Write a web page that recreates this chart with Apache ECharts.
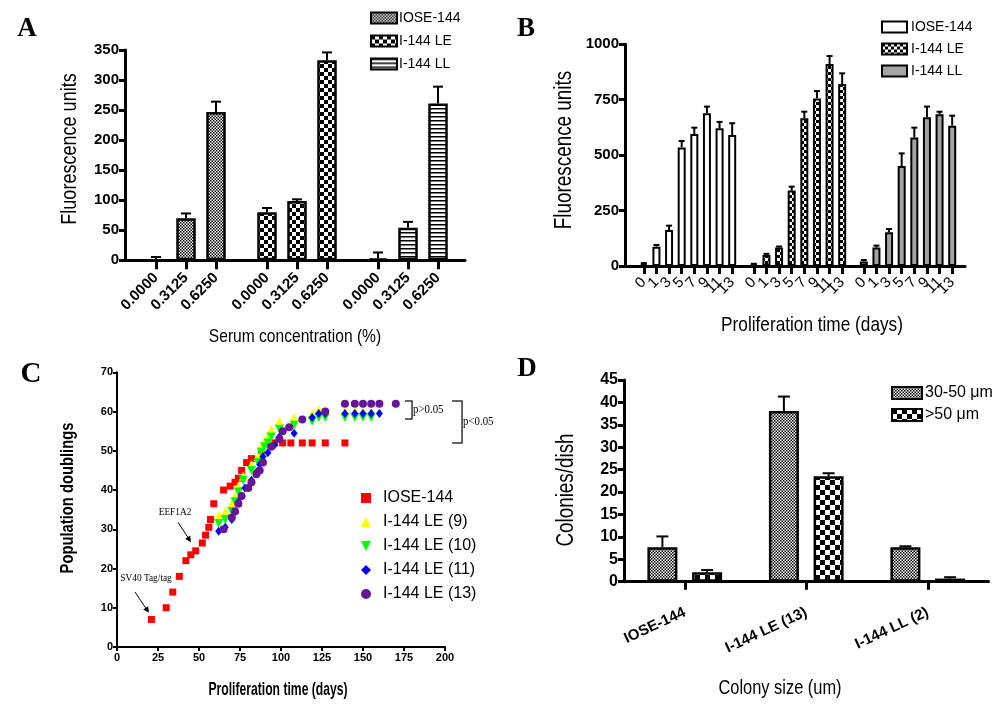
<!DOCTYPE html>
<html><head><meta charset="utf-8">
<script src="https://cdn.jsdelivr.net/npm/echarts@6/dist/echarts.min.js"></script>
<style>
html,body{margin:0;padding:0;background:#fff;width:1008px;height:708px;overflow:hidden}
.p{position:absolute;left:0;top:0;width:1008px;height:708px}
</style>
</head><body>
<div id="a" class="p"></div><div id="b" class="p"></div><div id="c" class="p"></div><div id="d" class="p"></div>
<script>
// ---------------- Panel A data ----------------
const A_concs = ['0.0000', '0.3125', '0.6250'];
const A_groups = ['IOSE-144', 'I-144 LE', 'I-144 LL'];
const A_IOSE = [0.5, 70, 247];
const A_IOSE_err = [5, 8, 17];
const A_LE = [80, 98.5, 333];
const A_LE_err = [7, 3, 13];
const A_LL = [3, 54, 261];
const A_LL_err = [10, 10, 28];

// ---------------- Panel B data ----------------
const B_days = ['0', '1', '3', '5', '7', '9', '11', '13'];
const B_groups = ['IOSE-144', 'I-144 LE', 'I-144 LL'];
const B_IOSE = [8, 87, 162, 535, 595, 689, 621, 591];
const B_IOSE_err = [5, 8, 20, 29, 29, 30, 29, 53];
const B_LE = [7, 50, 83, 340, 666, 756, 911, 821];
const B_LE_err = [3, 5, 5, 18, 30, 33, 36, 48];
const B_LL = [20, 83, 152, 451, 580, 671, 684, 633];
const B_LL_err = [7, 9, 15, 57, 44, 48, 12, 45];

// ---------------- Panel C data ----------------
const C_names = ['IOSE-144', 'I-144 LE (9)', 'I-144 LE (10)', 'I-144 LE (11)', 'I-144 LE (13)'];
const C_IOSE_days = [21, 30, 34, 38, 42, 45, 48, 52, 54, 56, 57, 59, 65, 69, 72, 74, 76, 79, 82, 88, 96, 101, 106, 113, 119, 127, 139];
const C_IOSE_pd = [7, 10, 14, 18, 22, 23.5, 24.5, 26.5, 28.5, 30.5, 32.5, 36.5, 40, 41, 42, 43, 45, 47, 48, 50, 52, 52, 52, 52, 52, 52, 52];
const C_LE9_days = [62, 66, 70, 72, 74, 77, 82, 86, 88, 90, 92, 94, 99, 108, 119, 123, 127, 139, 145, 150, 155];
const C_LE9_pd = [33.5, 34.5, 36.5, 38.5, 41, 43.5, 46.5, 48.5, 51, 52.5, 53.5, 55.5, 57.5, 58.5, 59.5, 60.5, 60, 60, 60, 60, 60];
const C_LE10_days = [62, 66, 70, 72, 74, 77, 82, 86, 88, 90, 92, 94, 99, 108, 119, 123, 127, 139, 145, 150, 155];
const C_LE10_pd = [31.5, 32.5, 34.5, 37, 39.5, 42.5, 45, 47, 49.5, 51, 52, 53.5, 55.5, 56.5, 57.5, 58.5, 58.5, 58.5, 58.5, 58.5, 58.5];
const C_LE11_days = [62, 66, 70, 74, 76, 78, 82, 85, 87, 89, 92, 96, 99, 108, 119, 123, 127, 139, 145, 150, 155, 160];
const C_LE11_pd = [29.5, 30.5, 32.5, 37, 38.5, 40.5, 42.5, 44.5, 46.5, 48.5, 49.5, 51.5, 53.5, 54.5, 58.5, 59.5, 59.5, 59.5, 59.5, 59.5, 59.5, 59.5];
const C_LE13_days = [65, 70, 72, 74, 76, 80, 82, 85, 87, 89, 94, 99, 101, 105, 113, 127, 139, 145, 150, 155, 160, 170];
const C_LE13_pd = [30, 33, 34.5, 36.5, 38.5, 40.5, 42, 44, 45, 47, 51, 53, 55, 56, 58, 60, 62, 62, 62, 62, 62, 62];
// annotations (data space)
const C_arrowTexts = ['SV40 Tag/tag', 'EEF1A2'];
const C_arrowTextAt = [[17.7, 17.6], [35.4, 34.4]];
const C_arrowFrom = [[11, 14], [37.2, 31.8]];
const C_arrowTo = [[19.5, 8.7], [45.1, 26.7]];
const C_pTexts = ['p>0.05', 'p<0.05'];
const C_pTop = [62.7, 62.7];
const C_pBottom = [58.1, 52];
const C_pX = [[175.6, 179.9], [204.3, 210.4]];

// ---------------- Panel D data ----------------
const D_cats = ['IOSE-144', 'I-144 LE (13)', 'I-144 LL (2)'];
const D_names = ['30-50\u00a0\u03bcm', '>50\u00a0\u03bcm'];
const D_small = [7.7, 38.1, 7.7];
const D_small_err = [2.4, 3.2, 0.2];
const D_large = [2.1, 23.5, 0.7];
const D_large_err = [0.5, 0.7, 0.3];

// ---------------- helpers ----------------
const SANS = '"Liberation Sans",Arial,sans-serif';
const SERIF = '"Liberation Serif","Times New Roman",serif';
const SQ = 0.82; // horizontal squeeze of the title lettering

function pattern(kind, s) {
  const c = document.createElement('canvas');
  const ctx = c.getContext('2d');
  if (kind === 'check') {
    c.width = c.height = 2 * s;
    ctx.fillStyle = '#fff'; ctx.fillRect(0, 0, 2 * s, 2 * s);
    ctx.fillStyle = '#000'; ctx.fillRect(0, 0, s, s); ctx.fillRect(s, s, s, s);
  } else if (kind === 'stripe') {
    c.width = 4; c.height = 4;
    ctx.fillStyle = '#fff'; ctx.fillRect(0, 0, 4, 4);
    ctx.fillStyle = '#000'; ctx.fillRect(0, 0, 4, 1.5);
  }
  return { image: c, repeat: 'repeat' };
}
const patFine = pattern('check', 1.5);
const patCheck = pattern('check', 4);
const patCheckB = pattern('check', 3);
const patCheckD = pattern('check', 5);
const patStripe = pattern('stripe');

function txt(text, x, y, font, rot, sx) {
  return { type: 'text', x: x, y: y, rotation: rot || 0, scaleX: sx || 1, z: 100,
    style: { text: text, font: font, fill: '#000', align: 'center', verticalAlign: 'middle' } };
}
function errSeries(xi, yi, vals, errs, capW, offset, lw) {
  return {
    type: 'custom', xAxisIndex: xi, yAxisIndex: yi, z: 5, silent: true,
    encode: { x: 0, y: 1 },
    data: vals.map((v, i) => [i, v, errs[i]]),
    renderItem: function (params, api) {
      const i = api.value(0), v = api.value(1), e = api.value(2);
      const p0 = api.coord([i, v]), p1 = api.coord([i, v + e]);
      const x = p0[0] + offset;
      return { type: 'group', children: [
        { type: 'line', shape: { x1: x, y1: p0[1], x2: x, y2: p1[1] }, style: { stroke: '#000', lineWidth: lw } },
        { type: 'line', shape: { x1: x - capW / 2, y1: p1[1], x2: x + capW / 2, y2: p1[1] }, style: { stroke: '#000', lineWidth: lw } }
      ] };
    }
  };
}
const blackLine = (w) => ({ show: true, onZero: false, lineStyle: { color: '#000', width: w } });
const plain = (v) => String(v);
function frameX(gi) {
  return { gridIndex: gi, type: 'value', min: 0, max: 1, axisLine: blackLine(3),
    axisTick: { show: false }, axisLabel: { show: false }, splitLine: { show: false } };
}
function hiddenY(gi, max) {
  return { gridIndex: gi, type: 'value', min: 0, max: max, show: false, splitLine: { show: false } };
}
function groupX(gi, cats, fs, tickLen, weight, margin) {
  return { gridIndex: gi, type: 'category', data: cats,
    axisLine: { show: false },
    axisTick: { show: true, alignWithLabel: true, length: tickLen, lineStyle: { color: '#000', width: 3 } },
    axisLabel: { interval: 0, rotate: 45, margin: margin, color: '#000', fontSize: fs, fontWeight: weight, fontFamily: SANS, hideOverlap: false },
    splitLine: { show: false } };
}

// ---------------- Panel A ----------------
const chartA = echarts.init(document.getElementById('a'));
const A_vals = [A_IOSE, A_LE, A_LL], A_errs = [A_IOSE_err, A_LE_err, A_LL_err];
const A_pats = [patFine, patCheck, patStripe];
const A_lefts = [141, 252, 363];
const A_top = 50, A_h = 210.3;
chartA.setOption({
  animation: false,
  grid: [{ left: 125, top: A_top, width: 340, height: A_h, outerBoundsMode: 'none' }]
    .concat(A_lefts.map(l => ({ left: l, top: A_top, width: 90, height: A_h, outerBoundsMode: 'none' }))),
  xAxis: [frameX(0)].concat(A_lefts.map((l, i) => groupX(i + 1, A_concs, 15, 9, 'bold', 15))),
  yAxis: [{ gridIndex: 0, type: 'value', min: 0, max: 350, interval: 50, axisLine: blackLine(3),
    axisTick: { show: true, length: 6, lineStyle: { color: '#000', width: 3 } },
    axisLabel: { margin: 6, color: '#000', fontSize: 15, fontWeight: 'bold', fontFamily: SANS, formatter: plain },
    splitLine: { show: false } }].concat(A_lefts.map((l, i) => hiddenY(i + 1, 350))),
  legend: { orient: 'vertical', left: 370, top: 11, padding: 0, itemWidth: 26, itemHeight: 11, itemGap: 9, icon: 'rect',
    textStyle: { color: '#000', fontSize: 14, fontFamily: SANS, padding: [0, 0, 0, -3] }, data: A_groups },
  series: A_groups.map((g, i) => ({ type: 'bar', name: g, xAxisIndex: i + 1, yAxisIndex: i + 1, data: A_vals[i],
    barWidth: 19.5, itemStyle: { color: A_pats[i], borderColor: '#000', borderWidth: 2.5 } }))
    .concat(A_groups.map((g, i) => errSeries(i + 1, i + 1, A_vals[i], A_errs[i], 10, 0, 2))),
  graphic: [
    txt('A', 27, 29, 'bold 27px ' + SERIF),
    txt('Fluorescence units', 70, 149, '22px ' + SANS, Math.PI / 2, SQ),
    txt('Serum concentration (%)', 295, 337, '19px ' + SANS, 0, SQ)
  ]
});

// ---------------- Panel B ----------------
const chartB = echarts.init(document.getElementById('b'));
const B_vals = [B_IOSE, B_LE, B_LL], B_errs = [B_IOSE_err, B_LE_err, B_LL_err];
const B_pats = ['#ffffff', patCheckB, '#a3a3a3'];
const B_lefts = [637.5, 747.5, 857.5];
const B_top = 44.3, B_h = 221.7;
chartB.setOption({
  animation: false,
  grid: [{ left: 625, top: B_top, width: 340, height: B_h, outerBoundsMode: 'none' }]
    .concat(B_lefts.map(l => ({ left: l, top: B_top, width: 101, height: B_h, outerBoundsMode: 'none' }))),
  xAxis: [frameX(0)].concat(B_lefts.map((l, i) => groupX(i + 1, B_days, 15, 8, 'normal', 14))),
  yAxis: [{ gridIndex: 0, type: 'value', min: 0, max: 1000, interval: 250, axisLine: blackLine(3),
    axisTick: { show: true, length: 6, lineStyle: { color: '#000', width: 3 } },
    axisLabel: { margin: 6, color: '#000', fontSize: 15, fontWeight: 'bold', fontFamily: SANS, formatter: plain },
    splitLine: { show: false } }].concat(B_lefts.map((l, i) => hiddenY(i + 1, 1000))),
  legend: { orient: 'vertical', left: 881, top: 20, padding: 0, itemWidth: 25, itemHeight: 11, itemGap: 8, icon: 'rect',
    textStyle: { color: '#000', fontSize: 14, fontFamily: SANS, padding: [0, 0, 0, -1] }, data: B_groups },
  series: B_groups.map((g, i) => ({ type: 'bar', name: g, xAxisIndex: i + 1, yAxisIndex: i + 1, data: B_vals[i],
    barWidth: 8, itemStyle: { color: B_pats[i], borderColor: '#000', borderWidth: 2 } }))
    .concat(B_groups.map((g, i) => errSeries(i + 1, i + 1, B_vals[i], B_errs[i], 6, 0, 2))),
  graphic: [
    txt('B', 526, 29, 'bold 27px ' + SERIF),
    txt('Fluorescence units', 565, 150, '23px ' + SANS, Math.PI / 2, SQ),
    txt('Proliferation time (days)', 812, 325, '21px ' + SANS, 0, SQ)
  ]
});

// ---------------- Panel C ----------------
const chartC = echarts.init(document.getElementById('c'));
const C_days = [C_IOSE_days, C_LE9_days, C_LE10_days, C_LE11_days, C_LE13_days];
const C_pd = [C_IOSE_pd, C_LE9_pd, C_LE10_pd, C_LE11_pd, C_LE13_pd];
const DOWN_TRI = 'path://M0,0 L10,0 L5,10 Z';
const C_sym = [
  { symbol: 'rect', symbolSize: 7, color: '#ff0000', icon: 'rect' },
  { symbol: 'triangle', symbolSize: 9, color: '#ffff00', icon: 'triangle' },
  { symbol: DOWN_TRI, symbolSize: 9, color: '#00ff00', icon: DOWN_TRI },
  { symbol: 'diamond', symbolSize: [7, 9], color: '#0000ff', icon: 'diamond' },
  { symbol: 'circle', symbolSize: 8, color: '#66169a', icon: 'circle' }
];
chartC.setOption({
  animation: false,
  grid: { left: 117, top: 372.3, width: 328, height: 274.7, outerBoundsMode: 'none' },
  xAxis: { type: 'value', min: 0, max: 200, interval: 25, axisLine: blackLine(2),
    axisTick: { show: true, length: 4, lineStyle: { color: '#000', width: 2 } },
    axisLabel: { margin: 5, color: '#000', fontSize: 11, fontWeight: 'bold', fontFamily: SANS }, splitLine: { show: false } },
  yAxis: { type: 'value', min: 0, max: 70, interval: 10, axisLine: blackLine(2),
    axisTick: { show: true, length: 4, lineStyle: { color: '#000', width: 2 } },
    axisLabel: { margin: 4, color: '#000', fontSize: 11, fontWeight: 'bold', fontFamily: SANS }, splitLine: { show: false } },
  legend: { orient: 'vertical', left: 361, top: 490, padding: 0, itemWidth: 10, itemHeight: 10, itemGap: 8, symbolKeepAspect: true,
    textStyle: { color: '#000', fontSize: 16, fontFamily: SANS, padding: [0, 0, 0, 7] },
    data: C_names.map((n, i) => ({ name: n, icon: C_sym[i].icon })) },
  series: C_names.map((n, i) => ({ type: 'scatter', name: n, symbol: C_sym[i].symbol, symbolSize: C_sym[i].symbolSize,
    itemStyle: { color: C_sym[i].color, opacity: 1 },
    data: C_days[i].map((d, k) => [d, C_pd[i][k]]) }))
});
(function () {
  const px = (p) => chartC.convertToPixel({ gridIndex: 0 }, p);
  const g = [
    txt('C', 31, 375, 'bold 29px ' + SERIF),
    txt('Population doublings', 68, 498, 'bold 18px ' + SANS, Math.PI / 2, SQ),
    txt('Proliferation time (days)', 278, 690, 'bold 19px ' + SANS, 0, 0.64)
  ];
  C_arrowTexts.forEach((t, i) => {
    const a = px(C_arrowTextAt[i]);
    g.push(txt(t, a[0], a[1], '11px ' + SERIF, 0, 0.85));
    const p0 = px(C_arrowFrom[i]), p1 = px(C_arrowTo[i]);
    const dx = p1[0] - p0[0], dy = p1[1] - p0[1], L = Math.hypot(dx, dy);
    const ux = dx / L, uy = dy / L, hl = 6, hw = 3;
    g.push({ type: 'line', shape: { x1: p0[0], y1: p0[1], x2: p1[0] - ux * hl, y2: p1[1] - uy * hl }, style: { stroke: '#000', lineWidth: 1 } });
    g.push({ type: 'polygon', shape: { points: [[p1[0], p1[1]],
      [p1[0] - ux * hl - uy * hw, p1[1] - uy * hl + ux * hw],
      [p1[0] - ux * hl + uy * hw, p1[1] - uy * hl - ux * hw]] }, style: { fill: '#000' } });
  });
  C_pTexts.forEach((t, i) => {
    const a = px([C_pX[i][0], C_pTop[i]]), b = px([C_pX[i][1], C_pTop[i]]);
    const c = px([C_pX[i][1], C_pBottom[i]]), d = px([C_pX[i][0], C_pBottom[i]]);
    g.push({ type: 'polyline', shape: { points: [a, b, c, d] }, style: { stroke: '#333', lineWidth: 1.5, fill: null } });
    g.push({ type: 'text', x: b[0] + 1, y: (b[1] + c[1]) / 2, scaleX: 0.9,
      style: { text: t, font: '12px ' + SERIF, fill: '#000', align: 'left', verticalAlign: 'middle' } });
  });
  chartC.setOption({ graphic: g });
})();

// ---------------- Panel D ----------------
const chartD = echarts.init(document.getElementById('d'));
const D_barW = 30, D_gap = 0.49;
const D_off = D_barW * (1 + D_gap) / 2;
chartD.setOption({
  animation: false,
  grid: { left: 624, top: 380, width: 364.5, height: 201.7, outerBoundsMode: 'none' },
  xAxis: { type: 'category', data: D_cats, axisLine: blackLine(3),
    axisTick: { show: true, alignWithLabel: true, length: 8, lineStyle: { color: '#000', width: 3 } },
    axisLabel: { interval: 0, rotate: 25, margin: 30, color: '#000', fontSize: 15, fontWeight: 'bold', fontFamily: SANS },
    splitLine: { show: false } },
  yAxis: { type: 'value', min: 0, max: 45, interval: 5, axisLine: blackLine(3),
    axisTick: { show: true, length: 6, lineStyle: { color: '#000', width: 3 } },
    axisLabel: { margin: 6, color: '#000', fontSize: 16, fontWeight: 'bold', fontFamily: SANS }, splitLine: { show: false } },
  legend: { orient: 'vertical', left: 891, top: 385, padding: 0, itemWidth: 30, itemHeight: 12, itemGap: 6, icon: 'rect',
    textStyle: { color: '#000', fontSize: 16, fontFamily: SANS, padding: [0, 0, 0, -2] }, data: D_names },
  series: [
    { type: 'bar', name: D_names[0], data: D_small, barWidth: D_barW, barGap: (D_gap * 100) + '%',
      itemStyle: { color: patFine, borderColor: '#000', borderWidth: 2.5 } },
    { type: 'bar', name: D_names[1], data: D_large, barWidth: D_barW, barGap: (D_gap * 100) + '%',
      itemStyle: { color: patCheckD, borderColor: '#000', borderWidth: 2.5 } },
    errSeries(0, 0, D_small, D_small_err, 12, -D_off, 2),
    errSeries(0, 0, D_large, D_large_err, 12, D_off, 2)
  ],
  graphic: [
    txt('D', 527, 369, 'bold 27px ' + SERIF),
    txt('Colonies/dish', 567, 490, '23px ' + SANS, Math.PI / 2, SQ),
    txt('Colony size (um)', 780, 688, '20px ' + SANS, 0, SQ)
  ]
});
</script>
</body></html>
